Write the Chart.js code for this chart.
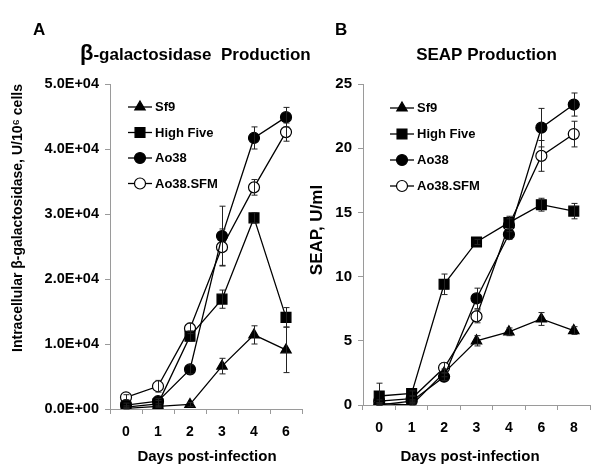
<!DOCTYPE html>
<html><head><meta charset="utf-8">
<script src="https://cdn.jsdelivr.net/npm/chart.js@4.4.0/dist/chart.umd.min.js"></script>
<style>
html,body{margin:0;padding:0;background:#fff;}
#wrap{position:relative;width:600px;height:474px;overflow:hidden;background:#fff}
canvas{position:absolute;top:0}
#ca{left:0}
#cb{left:300px}
</style></head><body>
<div id="wrap"><canvas id="ca" width="320" height="474"></canvas><canvas id="cb" width="300" height="474"></canvas></div>
<script>
// ---------- Data ----------
const seriesNames = ['Sf9', 'High Five', 'Ao38', 'Ao38.SFM'];

// Panel A: beta-galactosidase (U/10^6 cells)
const daysA = ['0', '1', '2', '3', '4', '6'];
const sf9A      = [100, 400, 700, 6600, 11400, 9100];
const sf9AErr   = [100, 100, 300, 1200, 1400, 3500];
const highFiveA    = [300, 800, 11200, 16900, 29400, 14100];
const highFiveAErr = [200, 500, 800, 1400, 800, 1500];
const ao38A    = [600, 1200, 6100, 26600, 41700, 44900];
const ao38AErr = [300, 400, 700, 4600, 1700, 1500];
const sfmA     = [1800, 3500, 12400, 24900, 34100, 42600];
const sfmAErr  = [400, 900, 800, 2800, 1200, 1400];
const ticksA = [0, 10000, 20000, 30000, 40000, 50000];

// Panel B: SEAP (U/ml)
const daysB = ['0', '1', '2', '3', '4', '6', '8'];
const sf9B      = [0.1, 0.0, 2.5, 5.0, 5.7, 6.7, 5.8];
const sf9BErr   = [0.1, 0.1, 0.3, 0.4, 0.3, 0.5, 0.3];
const highFiveB    = [0.7, 0.9, 9.4, 12.7, 14.2, 15.6, 15.1];
const highFiveBErr = [1.0, 0.2, 0.8, 0.2, 0.5, 0.5, 0.6];
const ao38B    = [0.0, 0.3, 2.2, 8.3, 13.3, 21.6, 23.4];
const ao38BErr = [0.1, 0.1, 0.3, 0.8, 0.4, 1.5, 0.9];
const sfmB     = [0.3, 0.5, 2.9, 6.9, 14.0, 19.4, 21.1];
const sfmBErr  = [0.1, 0.2, 0.4, 0.5, 0.5, 1.2, 1.0];
const ticksB = [0, 5, 10, 15, 20, 25];

// ---------- Styling ----------
const FONT = "'Liberation Sans', Arial, Helvetica, sans-serif";
const AXIS_GRAY = '#9a9a9a';
const markerStyles = [
  {pointStyle: 'triangle', radius: 6, fill: '#000'},
  {pointStyle: 'rect', radius: 7, fill: '#000'},
  {pointStyle: 'circle', radius: 5.5, fill: '#000'},
  {pointStyle: 'circle', radius: 5.5, fill: '#fff'}
];

function sci(v) {
  if (v === 0) return '0.0E+00';
  const e = Math.floor(Math.log10(Math.abs(v)) + 1e-9);
  const m = v / Math.pow(10, e);
  return m.toFixed(1) + 'E' + (e >= 0 ? '+' : '-') + String(Math.abs(e)).padStart(2, '0');
}

function makeDatasets(vals, errs) {
  return vals.map((d, i) => ({
    label: seriesNames[i],
    data: d,
    errors: errs[i],
    borderColor: '#000',
    borderWidth: 1.3,
    backgroundColor: markerStyles[i].fill,
    pointBackgroundColor: markerStyles[i].fill,
    pointBorderColor: '#000',
    pointBorderWidth: 1.2,
    pointStyle: markerStyles[i].pointStyle,
    pointRadius: markerStyles[i].radius,
    tension: 0,
    fill: false
  }));
}

// Error bars + annotations plugin
const annotPlugin = {
  id: 'annot',
  afterDatasetsDraw(chart, args, opts) {
    const ctx = chart.ctx;
    const ys = chart.scales.y;
    ctx.save();
    ctx.strokeStyle = '#222';
    ctx.lineWidth = 1;
    chart.data.datasets.forEach((ds, di) => {
      const meta = chart.getDatasetMeta(di);
      if (!ds.errors) return;
      meta.data.forEach((pt, i) => {
        const v = ds.data[i], e = ds.errors[i];
        if (!e) return;
        const x = Math.round(pt.x) + 0.5;
        const yt = ys.getPixelForValue(v + e);
        const yb = ys.getPixelForValue(Math.max(v - e, ys.min));
        ctx.beginPath();
        ctx.moveTo(x, yt); ctx.lineTo(x, yb);
        ctx.moveTo(x - 3, yt); ctx.lineTo(x + 3, yt);
        ctx.moveTo(x - 3, yb); ctx.lineTo(x + 3, yb);
        ctx.stroke();
      });
    });
    ctx.restore();
  },
  afterDraw(chart, args, opts) {
    const ctx = chart.ctx;
    const ca = chart.chartArea;
    ctx.save();
    ctx.fillStyle = '#000';
    // legend
    const lg = opts.legend;
    chart.data.datasets.forEach((ds, i) => {
      const y = ca.top + lg.dy + i * lg.step;
      const x0 = ca.left + lg.dx;
      ctx.strokeStyle = '#000';
      ctx.lineWidth = 1.3;
      ctx.beginPath();
      ctx.moveTo(x0, y); ctx.lineTo(x0 + 24, y);
      ctx.stroke();
      ctx.fillStyle = markerStyles[i].fill;
      ctx.strokeStyle = '#000';
      ctx.lineWidth = 1.2;
      Chart.helpers.drawPoint(ctx, {pointStyle: markerStyles[i].pointStyle, radius: markerStyles[i].radius, rotation: 0, borderWidth: 1.2}, x0 + 12, y);
      ctx.fillStyle = '#000';
      ctx.font = 'bold 13px ' + FONT;
      ctx.textAlign = 'left';
      ctx.textBaseline = 'middle';
      ctx.fillText(ds.label, x0 + 27, y + 0.5);
    });
    // texts
    (opts.texts || []).forEach(t => {
      ctx.save();
      ctx.fillStyle = '#000';
      ctx.font = t.font;
      ctx.textAlign = t.align || 'left';
      ctx.textBaseline = t.baseline || 'alphabetic';
      ctx.translate(t.x, t.y);
      if (t.rot) ctx.rotate(t.rot);
      if (t.parts) {
        let cx = 0;
        ctx.textAlign = 'left';
        t.parts.forEach(p => {
          ctx.font = p.font;
          ctx.fillText(p.text, cx, p.dy || 0);
          cx += ctx.measureText(p.text).width;
        });
      } else {
        ctx.fillText(t.text, 0, 0);
      }
      ctx.restore();
    });
    ctx.restore();
  }
};

function makeChart(id, labels, datasets, yTicks, yFmt, yFont, yWidth, xHeight, padRight, annot) {
  return new Chart(document.getElementById(id), {
    type: 'line',
    data: {labels: labels, datasets: datasets},
    plugins: [annotPlugin],
    options: {
      responsive: false,
      animation: false,
      devicePixelRatio: 1,
      layout: {padding: {top: 84, left: 0, right: padRight, bottom: 0}},
      plugins: {legend: {display: false}, tooltip: {enabled: false}, title: {display: false}, annot: annot},
      scales: {
        x: {
          type: 'category',
          offset: true,
          grid: {display: true, offset: true, drawOnChartArea: false, drawTicks: true, tickLength: 5, color: AXIS_GRAY, lineWidth: 1},
          border: {display: true, color: AXIS_GRAY, width: 1},
          ticks: {color: '#000', font: {family: FONT, size: 14, weight: 'bold'}, padding: 10, maxRotation: 0, autoSkip: false},
          afterFit(s) { s.height = xHeight; }
        },
        y: {
          min: yTicks[0], max: yTicks[yTicks.length - 1],
          afterBuildTicks(s) { s.ticks = yTicks.map(v => ({value: v})); },
          grid: {display: true, drawOnChartArea: false, drawTicks: true, tickLength: 5, color: AXIS_GRAY, lineWidth: 1},
          border: {display: true, color: AXIS_GRAY, width: 1},
          ticks: {color: '#000', font: {family: FONT, size: yFont, weight: 'bold'}, padding: 6, callback: yFmt},
          afterFit(s) { s.width = yWidth; }
        }
      }
    }
  });
}

makeChart('ca', daysA,
  makeDatasets([sf9A, highFiveA, ao38A, sfmA], [sf9AErr, highFiveAErr, ao38AErr, sfmAErr]),
  ticksA, v => sci(v), 14.5, 110, 65, 18,
  {
    legend: {dx: 18, dy: 23, step: 25.5},
    texts: [
      {text: 'A', x: 33, y: 35, font: 'bold 17px ' + FONT},
      {x: 80, y: 60, parts: [
        {text: 'β', font: 'bold 22px ' + FONT},
        {text: '-galactosidase  Production', font: 'bold 17px ' + FONT}
      ]},
      {text: 'Intracellular β-galactosidase, U/10⁶ cells', x: 18, y: 218, rot: -Math.PI / 2, align: 'center', baseline: 'middle', font: 'bold 14px ' + FONT},
      {text: 'Days post-infection', x: 207, y: 457, align: 'center', baseline: 'middle', font: 'bold 15px ' + FONT}
    ]
  });

makeChart('cb', daysB,
  makeDatasets([sf9B, highFiveB, ao38B, sfmB], [sf9BErr, highFiveBErr, ao38BErr, sfmBErr]),
  ticksB, v => String(v), 15, 63, 69, 10,
  {
    legend: {dx: 27, dy: 24, step: 26},
    texts: [
      {text: 'B', x: 35, y: 35, font: 'bold 17px ' + FONT},
      {text: 'SEAP Production', x: 186.5, y: 60, align: 'center', font: 'bold 17px ' + FONT},
      {text: 'SEAP, U/ml', x: 17, y: 230, rot: -Math.PI / 2, align: 'center', baseline: 'middle', font: 'bold 17px ' + FONT},
      {text: 'Days post-infection', x: 170, y: 457, align: 'center', baseline: 'middle', font: 'bold 15px ' + FONT}
    ]
  });
</script>
</body></html>
